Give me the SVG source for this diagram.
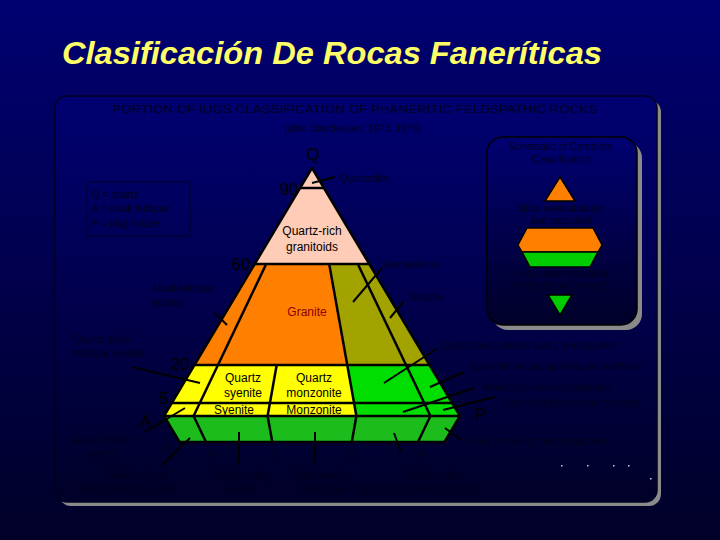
<svg xmlns="http://www.w3.org/2000/svg" width="720" height="540" viewBox="0 0 720 540">
<defs>
<linearGradient id="bg" x1="0" y1="0" x2="0" y2="1">
<stop offset="0" stop-color="#000072"/>
<stop offset="1" stop-color="#000028"/>
</linearGradient>
<style>
.lbl{font-family:"Liberation Sans",Arial,sans-serif;font-size:10px;fill:#00001e}
.in{font-family:"Liberation Sans",Arial,sans-serif;font-size:12px;fill:#000}
.num{font-family:"Liberation Sans",Arial,sans-serif;font-size:17px;fill:#000}
.edge{stroke:#000;stroke-width:2.5;stroke-linejoin:round;fill:none}
.lead{stroke:#000;stroke-width:2;fill:none}
.pink{fill:#FFCCB8}
.orange{fill:#FF8000}
.olive{fill:#A3A300}
.yellow{fill:#FFFF00}
.green{fill:#00DD00}
.dgreen{fill:#1CBC1C}
</style>
</defs>
<rect x="0" y="0" width="720" height="540" fill="url(#bg)"/>
<text x="62" y="64" font-family="'Liberation Sans',Arial,sans-serif" font-style="italic" font-weight="bold" font-size="31" fill="#FFFF66" textLength="540" lengthAdjust="spacingAndGlyphs">Clasificación De Rocas Faneríticas</text>

<g id="panel">
<rect x="59" y="100" width="602" height="406" rx="12" fill="#8a8a8a"/>
<rect x="55" y="96" width="602" height="406" rx="12" fill="url(#bg)" stroke="#000020" stroke-width="1.5"/>
<text class="lbl" x="355" y="113" text-anchor="middle" font-size="12" textLength="485" lengthAdjust="spacingAndGlyphs">PORTION OF IUGS CLASSIFICATION OF PHANERITIC FELDSPATHIC ROCKS</text>
<text class="lbl" x="353" y="132" text-anchor="middle" font-size="12">(after Streckeisen, 1973, 1976)</text>
</g>

<g id="legend">
<rect x="87" y="182" width="103" height="54" fill="none" stroke="#000028" stroke-width="1"/>
<text class="lbl" x="92" y="198" font-size="11">Q = quartz</text>
<text class="lbl" x="92" y="212" font-size="11">A = alkali feldspar</text>
<text class="lbl" x="92" y="227" font-size="11">P = plagioclase</text>
</g>

<g id="schematic">
<rect x="492" y="142" width="150" height="188" rx="16" fill="#8a8a8a"/>
<rect x="487" y="137" width="150" height="188" rx="16" fill="url(#bg)" stroke="#000" stroke-width="1.5"/>
<text class="lbl" x="561" y="150" text-anchor="middle" font-size="11">Schematic of Complete</text>
<text class="lbl" x="561" y="163" text-anchor="middle" font-size="11">Classification</text>
<polygon points="560,177 575,201 545,201" fill="#FF8000" stroke="#000" stroke-width="1.5"/>
<text class="lbl" x="561" y="212" text-anchor="middle" font-size="11">Silica oversaturated</text>
<text class="lbl" x="561" y="224" text-anchor="middle" font-size="11">and saturated</text>
<polygon points="527,228 593,228 602,245 598,252 522,252 518,245" fill="#FF8000" stroke="#000" stroke-width="1.5"/>
<polygon points="522,252 598,252 590,267 530,267" fill="#00CC00" stroke="#000" stroke-width="1.5"/>
<text class="lbl" x="561" y="277" text-anchor="middle" font-size="11">Silica undersaturated</text>
<text class="lbl" x="561" y="289" text-anchor="middle" font-size="11">(feldspathoid present)</text>
<polygon points="548,295 572,295 560,315" fill="#00CC00" stroke="#000" stroke-width="1.5"/>
</g>

<g id="fields">
<polygon id="quartzolite" class="pink" points="312,168 323.9,188 300.1,188"/>
<polygon id="quartz-rich" class="pink" points="300.1,188 323.9,188 369.3,264 254.7,264"/>
<polygon id="af-granite" class="orange" points="254.7,264 266.2,264 218,365 194.4,365"/>
<polygon id="granite" class="orange" points="266.2,264 329.2,264 347.3,365 218,365"/>
<polygon id="granodiorite" class="olive" points="329.2,264 357.8,264 406,365 347.3,365"/>
<polygon id="tonalite" class="olive" points="357.8,264 369.3,264 429.6,365 406,365"/>
<polygon id="qaf-syenite" class="yellow" points="194.4,365 218,365 199.8,403 171.8,403"/>
<polygon id="q-syenite" class="yellow" points="218,365 276.7,365 269.9,403 199.8,403"/>
<polygon id="q-monzonite" class="yellow" points="276.7,365 347.3,365 354.1,403 269.9,403"/>
<polygon id="q-monzodiorite" class="green" points="347.3,365 406,365 424.2,403 354.1,403"/>
<polygon id="q-diorite" class="green" points="406,365 429.6,365 452.2,403 424.2,403"/>
<polygon id="af-syenite" class="yellow" points="171.8,403 199.8,403 193.6,416 164,416"/>
<polygon id="syenite" class="yellow" points="199.8,403 269.9,403 267.6,416 193.6,416"/>
<polygon id="monzonite" class="yellow" points="269.9,403 354.1,403 356.4,416 267.6,416"/>
<polygon id="monzodiorite" class="green" points="354.1,403 424.2,403 430.4,416 356.4,416"/>
<polygon id="diorite" class="green" points="424.2,403 452.2,403 460,416 430.4,416"/>
<polygon id="foid-strip" class="dgreen" points="164,416 460,416 444.5,442 179.5,442"/>
</g>

<g id="connectors">
<polygon class="edge" points="312,168 460,416 164,416"/>
<polyline class="edge" points="164,416 179.5,442 444.5,442 460,416"/>
<line class="edge" x1="300.1" y1="188" x2="323.9" y2="188"/>
<line class="edge" x1="254.7" y1="264" x2="369.3" y2="264"/>
<line class="edge" x1="194.4" y1="365" x2="429.6" y2="365"/>
<line class="edge" x1="171.8" y1="403" x2="452.2" y2="403"/>
<line class="edge" x1="266.2" y1="264" x2="193.6" y2="416"/>
<line class="edge" x1="329.2" y1="264" x2="356.4" y2="416"/>
<line class="edge" x1="357.8" y1="264" x2="430.4" y2="416"/>
<line class="edge" x1="276.7" y1="365" x2="267.6" y2="416"/>
<line class="edge" x1="193.6" y1="416" x2="206" y2="442"/>
<line class="edge" x1="267.6" y1="416" x2="272.3" y2="442"/>
<line class="edge" x1="356.4" y1="416" x2="351.8" y2="442"/>
<line class="edge" x1="430.4" y1="416" x2="418" y2="442"/>
<line class="lead" x1="312" y1="183" x2="335" y2="177"/>
<line class="lead" x1="382" y1="268" x2="353" y2="302"/>
<line class="lead" x1="404" y1="301" x2="390" y2="318"/>
<line class="lead" x1="215" y1="313" x2="227" y2="325"/>
<line class="lead" x1="132" y1="367" x2="200" y2="383"/>
<line class="lead" x1="145" y1="432" x2="185" y2="408"/>
<line class="lead" x1="438" y1="348" x2="384" y2="383"/>
<line class="lead" x1="464" y1="372" x2="430" y2="387"/>
<line class="lead" x1="474" y1="388" x2="403" y2="412"/>
<line class="lead" x1="495" y1="397" x2="443" y2="410"/>
<line class="lead" x1="461" y1="440" x2="445" y2="428"/>
<line class="lead" x1="162" y1="465" x2="190" y2="438"/>
<line class="lead" x1="239" y1="463" x2="239" y2="432"/>
<line class="lead" x1="315" y1="463" x2="315" y2="432"/>
<line class="lead" x1="401" y1="452" x2="394" y2="433"/>
</g>

<g id="vertex-labels">
<text class="num" x="313" y="160" text-anchor="middle" font-size="22">Q</text>
<text class="num" x="289" y="195" text-anchor="middle">90</text>
<text class="num" x="241" y="270" text-anchor="middle">60</text>
<text class="num" x="180" y="370" text-anchor="middle">20</text>
<text class="num" x="164" y="404" text-anchor="middle" font-size="14">5</text>
<text class="num" x="146" y="427" text-anchor="middle" font-size="24">A</text>
<text class="num" x="481" y="420" text-anchor="middle" font-size="22">P</text>
<text class="lbl" x="166" y="450" text-anchor="middle" font-size="11">10</text>
<text class="lbl" x="212" y="458" text-anchor="middle" font-size="11">10</text>
<text class="lbl" x="277" y="458" text-anchor="middle" font-size="11">35</text>
<text class="lbl" x="353" y="458" text-anchor="middle" font-size="11">65</text>
<text class="lbl" x="422" y="458" text-anchor="middle" font-size="11">90</text>
</g>

<g id="inner-labels">
<text class="in" x="312" y="235" text-anchor="middle">Quartz-rich</text>
<text class="in" x="312" y="251" text-anchor="middle">granitoids</text>
<text class="in" x="307" y="316" text-anchor="middle" fill="#8B0000" style="fill:#8B0000">Granite</text>
<text class="in" x="243" y="382" text-anchor="middle">Quartz</text>
<text class="in" x="243" y="397" text-anchor="middle">syenite</text>
<text class="in" x="314" y="382" text-anchor="middle">Quartz</text>
<text class="in" x="314" y="397" text-anchor="middle">monzonite</text>
<text class="in" x="234" y="414" text-anchor="middle">Syenite</text>
<text class="in" x="314" y="414" text-anchor="middle">Monzonite</text>
</g>

<g id="outer-labels">
<text class="lbl" x="340" y="182" font-size="11">Quartzolite</text>
<text class="lbl" x="384" y="268" font-size="11">Granodiorite</text>
<text class="lbl" x="409" y="301" font-size="11">Tonalite</text>
<text class="lbl" x="152" y="292" font-size="11">Alkali-feldspar</text>
<text class="lbl" x="152" y="306" font-size="11">granite</text>
<text class="lbl" x="74" y="343" font-size="11">Quartz alkali-</text>
<text class="lbl" x="74" y="357" font-size="11">feldspar syenite</text>
<text class="lbl" x="443" y="349" textLength="176" lengthAdjust="spacingAndGlyphs">Quartz monzodiorite/quartz monzogabbro</text>
<text class="lbl" x="470" y="370" textLength="172" lengthAdjust="spacingAndGlyphs">Quartz diorite/quartz gabbro/quartz anorthosite</text>
<text class="lbl" x="483" y="391" textLength="128" lengthAdjust="spacingAndGlyphs">Monzodiorite/monzogabbro</text>
<text class="lbl" x="502" y="406" textLength="138" lengthAdjust="spacingAndGlyphs">Diorite/gabbro/anorthosite</text>
<text class="lbl" x="468" y="445" textLength="140" lengthAdjust="spacingAndGlyphs">Foid-bearing diorite/gabbro</text>
<text class="lbl" x="103" y="443" text-anchor="middle" font-size="11">Alkali-feldspar</text>
<text class="lbl" x="103" y="457" text-anchor="middle" font-size="11">syenite</text>
<text class="lbl" x="136" y="479" text-anchor="middle" font-size="11">Foid-bearing</text>
<text class="lbl" x="128" y="493" text-anchor="middle" font-size="11">alkali-feldspar syenite</text>
<text class="lbl" x="241" y="479" text-anchor="middle" font-size="11">Foid-bearing</text>
<text class="lbl" x="240" y="493" text-anchor="middle" font-size="11">syenite</text>
<text class="lbl" x="322" y="479" text-anchor="middle" font-size="11">Foid-bearing</text>
<text class="lbl" x="325" y="493" text-anchor="middle" font-size="11">monzonite</text>
<text class="lbl" x="433" y="479" text-anchor="middle" font-size="11">Foid-bearing</text>
<text class="lbl" x="418" y="493" text-anchor="middle" font-size="11">monzodiorite/monzogabbro</text>
</g>

<g id="dots" fill="#c8c8ff">
<rect x="561" y="465" width="1.5" height="1.5"/>
<rect x="587" y="465" width="1.5" height="1.5"/>
<rect x="613" y="465" width="1.5" height="1.5"/>
<rect x="628" y="465" width="1.5" height="1.5"/>
<rect x="650" y="478" width="1.5" height="1.5"/>
</g>
</svg>
